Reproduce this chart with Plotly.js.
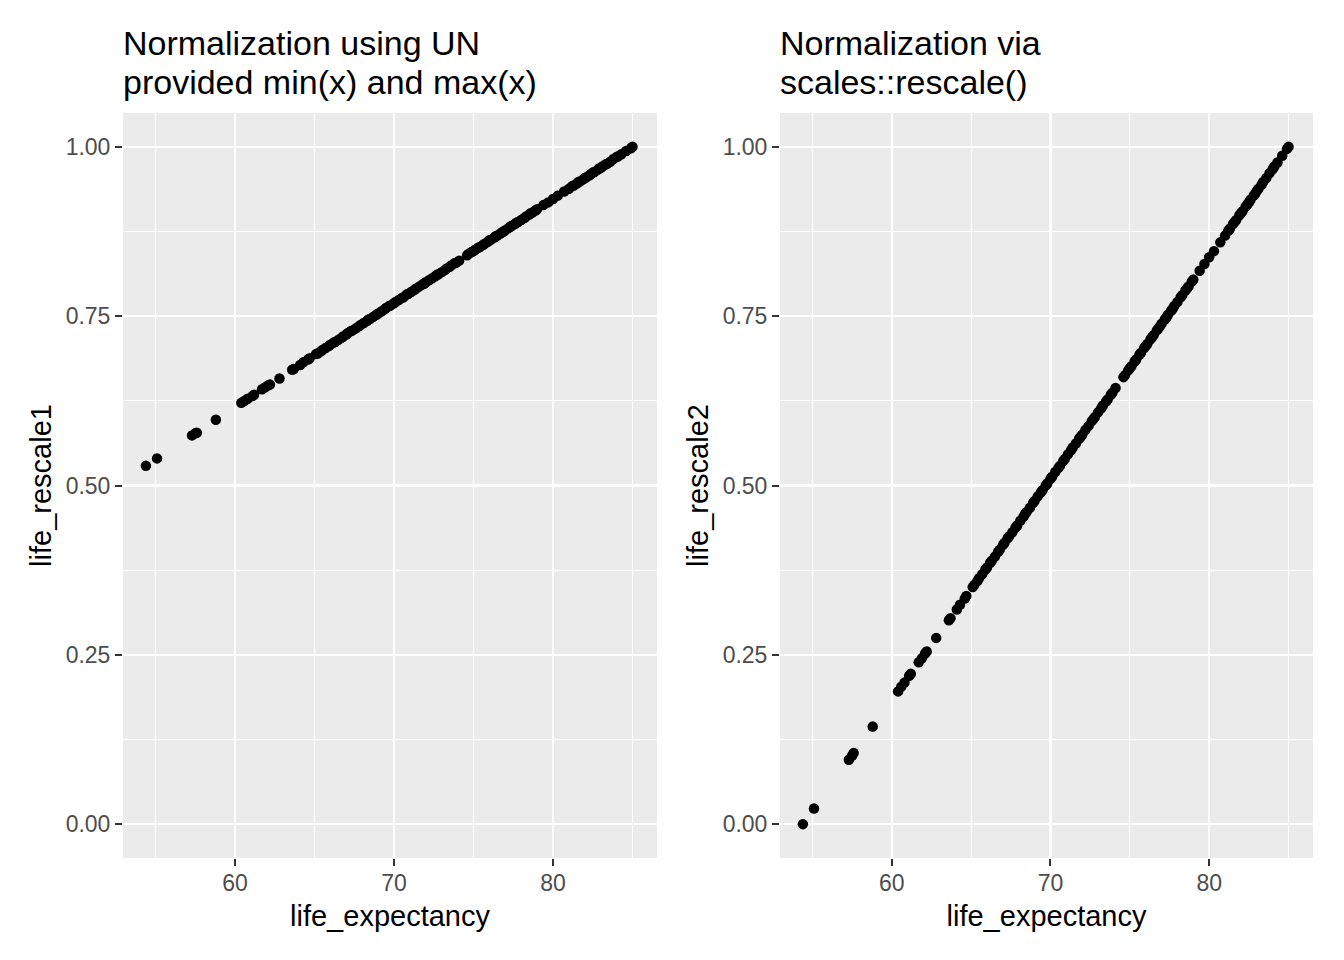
<!DOCTYPE html>
<html>
<head>
<meta charset="utf-8">
<script src="https://cdn.plot.ly/plotly-3.0.1.min.js"></script>
<style>html,body{margin:0;padding:0;background:#fff;}#chart{width:1344px;height:960px;}</style>
</head>
<body>
<div id="chart"></div>
<script>
// life expectancy values
const lifeExpectancy = [54.4,55.1,57.3,57.5,57.6,58.8,60.4,60.6,60.8,61.1,61.2,61.7,61.9,62.1,62.2,62.8,63.6,63.7,64.1,64.3,64.6,64.7,65.1,65.2,65.4,65.5,
65.7,65.9,66.0,66.2,66.3,66.5,66.7,66.8,67.0,67.1,67.3,67.4,67.6,67.8,67.9,68.1,68.3,68.4,68.5,68.7,68.9,69.0,69.2,69.4,69.5,69.7,69.8,70.0,70.1,70.3,70.5,70.6,70.8,70.9,71.1,71.3,71.4,71.6,71.8,71.9,72.0,72.2,72.4,72.6,72.7,72.8,73.0,73.2,73.3,73.5,73.6,73.8,73.9,74.1,
74.6,74.7,74.9,75.0,75.1,75.3,75.4,75.6,75.7,75.9,76.0,76.1,76.3,76.4,76.5,76.7,76.8,76.9,77.0,77.2,77.3,77.4,77.6,77.7,77.8,78.0,78.2,78.3,78.5,78.6,78.7,78.9,79.0,
79.4,79.7,80.0,80.3,80.7,81.0,81.2,81.3,81.5,81.6,81.7,81.9,82.0,82.1,82.3,82.4,82.5,82.6,82.8,82.9,83.0,83.1,83.3,83.4,83.6,83.8,84.0,84.1,84.3,84.6,84.9,85.0];

// normalized with UN min 20 / max 85
const lifeRescale1 = [0.529,0.540,0.574,0.577,0.578,0.597,0.622,0.625,0.628,0.632,0.634,0.642,0.645,0.648,0.649,0.658,0.671,0.672,0.678,0.682,0.686,0.688,0.694,0.695,0.698,0.700,
0.703,0.706,0.708,0.711,0.712,0.715,0.718,0.720,0.723,0.725,0.728,0.729,0.732,0.735,0.737,0.740,0.743,0.745,0.746,0.749,0.752,0.754,0.757,0.760,0.762,0.765,0.766,0.769,0.771,0.774,0.777,0.778,0.782,0.783,0.786,0.789,0.791,0.794,0.797,0.798,0.800,0.803,0.806,0.809,0.811,0.812,0.815,0.818,0.820,0.823,0.825,0.828,0.829,0.832,
0.840,0.842,0.845,0.846,0.848,0.851,0.852,0.855,0.857,0.860,0.862,0.863,0.866,0.868,0.869,0.872,0.874,0.875,0.877,0.880,0.882,0.883,0.886,0.888,0.889,0.892,0.895,0.897,0.900,0.902,0.903,0.906,0.908,
0.914,0.918,0.923,0.928,0.934,0.938,0.942,0.943,0.946,0.948,0.949,0.952,0.954,0.955,0.958,0.960,0.962,0.963,0.966,0.968,0.969,0.971,0.974,0.975,0.978,0.982,0.985,0.986,0.989,0.994,0.998,1.000];

// normalized via scales::rescale()
const lifeRescale2 = [0.000,0.023,0.095,0.101,0.105,0.144,0.196,0.203,0.209,0.219,0.222,0.239,0.245,0.252,0.255,0.275,0.301,0.304,0.317,0.324,0.333,0.337,0.350,0.353,0.359,0.363,
0.369,0.376,0.379,0.386,0.389,0.395,0.402,0.405,0.412,0.415,0.422,0.425,0.431,0.438,0.441,0.448,0.454,0.458,0.461,0.467,0.474,0.477,0.484,0.490,0.493,0.500,0.503,0.510,0.513,0.520,0.526,0.529,0.536,0.539,0.546,0.552,0.556,0.562,0.569,0.572,0.575,0.582,0.588,0.595,0.598,0.601,0.608,0.614,0.618,0.624,0.627,0.634,0.637,0.644,
0.660,0.663,0.670,0.673,0.676,0.683,0.686,0.693,0.696,0.703,0.706,0.709,0.716,0.719,0.722,0.729,0.732,0.735,0.739,0.745,0.748,0.752,0.758,0.761,0.765,0.771,0.778,0.781,0.788,0.791,0.794,0.801,0.804,
0.817,0.827,0.837,0.846,0.859,0.869,0.876,0.879,0.886,0.889,0.892,0.899,0.902,0.905,0.912,0.915,0.918,0.922,0.928,0.931,0.935,0.938,0.944,0.948,0.954,0.961,0.967,0.971,0.977,0.987,0.997,1.000];

const xTicks = [60, 70, 80];
const yTicks = [0, 0.25, 0.5, 0.75, 1];
const yTickLabels = ['0.00', '0.25', '0.50', '0.75', '1.00'];
const titleLeft = ['Normalization using UN', 'provided min(x) and max(x)'];
const titleRight = ['Normalization via', 'scales::rescale()'];

const FONT = 'Liberation Sans, Arial, sans-serif';
const marker = {color: '#000000', size: 10.5, line: {width: 0}};

const traces = [
  {x: lifeExpectancy, y: lifeRescale1, type: 'scatter', mode: 'markers', marker: marker, xaxis: 'x', yaxis: 'y', hoverinfo: 'x+y'},
  {x: lifeExpectancy, y: lifeRescale2, type: 'scatter', mode: 'markers', marker: marker, xaxis: 'x2', yaxis: 'y2', hoverinfo: 'x+y'}
];

function xAxis(domain, anchor) {
  return {
    domain: domain, anchor: anchor, range: [52.96, 86.54],
    tickmode: 'array', tickvals: xTicks, ticktext: xTicks.map(String),
    ticks: 'outside', ticklen: 7, tickwidth: 2, tickcolor: '#333333',
    ticklabelstandoff: -3,
    tickfont: {family: FONT, size: 23, color: '#4D4D4D'},
    showgrid: true, gridcolor: '#FFFFFF', gridwidth: 2.2,
    minor: {tickmode: 'array', tickvals: [55, 65, 75, 85], showgrid: true, gridcolor: '#FFFFFF', gridwidth: 1.1, ticks: ''},
    zeroline: false, showline: false,
    title: {text: 'life_expectancy', font: {family: FONT, size: 29, color: '#000000'}, standoff: 11}
  };
}
function yAxis(domain, anchor, title) {
  return {
    domain: domain, anchor: anchor, range: [-0.05, 1.05],
    tickmode: 'array', tickvals: yTicks, ticktext: yTickLabels,
    ticks: 'outside', ticklen: 7, tickwidth: 2, tickcolor: '#333333',
    tickfont: {family: FONT, size: 23, color: '#4D4D4D'},
    showgrid: true, gridcolor: '#FFFFFF', gridwidth: 2.2,
    minor: {tickmode: 'array', tickvals: [0.125, 0.375, 0.625, 0.875], showgrid: true, gridcolor: '#FFFFFF', gridwidth: 1.1, ticks: ''},
    zeroline: false, showline: false,
    title: {text: title, font: {family: FONT, size: 29, color: '#000000'}, standoff: 5}
  };
}

const yDom = [0.10625, 0.88229];
const titleFont = {family: FONT, size: 34, color: '#000000'};
function titleAnn(text, x, ypix) {
  return {text: text, xref: 'paper', yref: 'paper', x: x, y: 1 - ypix / 960,
    xanchor: 'left', yanchor: 'middle', showarrow: false, font: titleFont, align: 'left'};
}

const layout = {
  width: 1344, height: 960,
  margin: {l: 0, r: 0, t: 0, b: 0, pad: 0},
  paper_bgcolor: '#FFFFFF', plot_bgcolor: '#EBEBEB',
  showlegend: false,
  xaxis: xAxis([123/1344, 657/1344], 'y'),
  yaxis: yAxis(yDom, 'x', 'life_rescale1'),
  xaxis2: xAxis([780/1344, 1313/1344], 'y2'),
  yaxis2: yAxis(yDom, 'x2', 'life_rescale2'),
  annotations: [
    titleAnn(titleLeft[0], 121/1344, 43.5),
    titleAnn(titleLeft[1], 121/1344, 81.5),
    titleAnn(titleRight[0], 778/1344, 43.5),
    titleAnn(titleRight[1], 778/1344, 81.5)
  ]
};

Plotly.newPlot('chart', traces, layout, {displayModeBar: false, staticPlot: true});
</script>
</body>
</html>
